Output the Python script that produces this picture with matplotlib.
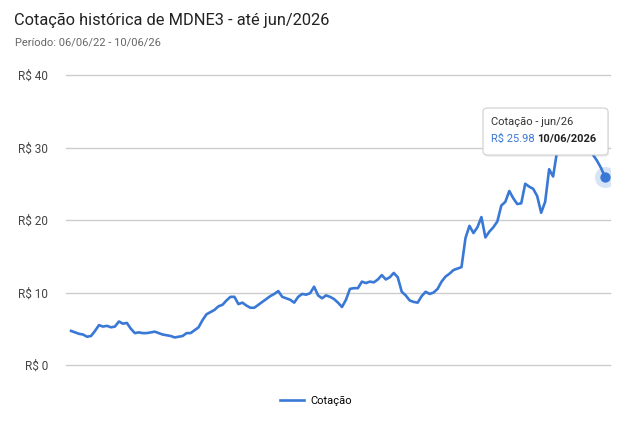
import matplotlib

matplotlib.use("Agg")
import matplotlib.pyplot as plt
import matplotlib.ticker as mticker
from matplotlib.patches import FancyBboxPatch
import pandas as pd

# values, evenly spaced from 06/06/22 to 10/06/26
prices = [
    4.7, 4.5, 4.3, 4.2, 3.9, 4.0, 4.7, 5.5, 5.3, 5.4, 5.2, 5.3, 6.0, 5.7, 5.8, 5.0,
    4.4, 4.5, 4.4, 4.4, 4.5, 4.6, 4.4, 4.2, 4.1, 4.0, 3.8, 3.9, 4.0, 4.4, 4.4, 4.8,
    5.2, 6.2, 7.0, 7.3, 7.6, 8.1, 8.3, 8.9, 9.4, 9.4, 8.4, 8.6, 8.2, 7.9, 7.9, 8.3,
    8.7, 9.1, 9.5, 9.8, 10.2, 9.4, 9.2, 9.0, 8.6, 9.4, 9.8, 9.7, 9.9, 10.8, 9.6, 9.2,
    9.6, 9.4, 9.1, 8.6, 8.0, 9.0, 10.5, 10.6, 10.6, 11.5, 11.3, 11.5, 11.4, 11.8, 12.4, 11.8,
    12.1, 12.7, 12.1, 10.1, 9.6, 8.9, 8.7, 8.6, 9.5, 10.1, 9.8, 10.0, 10.5, 11.5, 12.2, 12.6,
    13.1, 13.3, 13.5, 17.5, 19.2, 18.2, 19.0, 20.4, 17.6, 18.4, 19.0, 19.8, 22.0, 22.5, 24.0, 23.0,
    22.2, 22.3, 25.0, 24.6, 24.3, 23.3, 21.0, 22.5, 27.0, 26.0, 29.5, 31.0, 32.0, 32.5, 33.5, 33.0,
    32.0, 31.0, 30.5, 29.0, 28.2, 27.2, 25.98,
]
dates = pd.date_range("2022-06-06", "2026-06-10", periods=len(prices))
y_ticks = [0, 10, 20, 30, 40]

W, H = 636, 421
LINE = "#3a78d6"

plt.rcParams["font.family"] = ["Roboto", "DejaVu Sans"]

fig = plt.figure(figsize=(W / 100, H / 100), dpi=100)
ax = fig.add_axes([66 / W, 1 - 365 / H, (610 - 66) / W, (365 - 75) / H])

ax.plot(dates, prices, color=LINE, linewidth=1.9, label="Cotação", zorder=3)
ax.scatter([dates[-1]], [prices[-1]], s=230, color=LINE, alpha=0.2, zorder=4, linewidths=0)
ax.scatter([dates[-1]], [prices[-1]], s=55, color=LINE, zorder=5, linewidths=0)

pad = pd.Timedelta(days=14)
ax.set_xlim(dates[0] - pad, dates[-1] + pad)
ax.set_ylim(0, 40)
ax.set_yticks(y_ticks)
ax.yaxis.set_major_formatter(mticker.FuncFormatter(lambda v, _: f"R$ {v:.0f}"))
ax.tick_params(axis="y", length=0, pad=13, labelsize=8.5, labelcolor="#444444")
ax.set_xticks([])
ax.grid(axis="y", color="#cccccc", linewidth=1)
for gl in ax.get_ygridlines():
    gl.set_clip_on(False)
for s in ax.spines.values():
    s.set_visible(False)

fig.text(14 / W, 1 - 20 / H, "Cotação histórica de MDNE3 - até jun/2026",
         fontsize=11.8, color="#222222", va="center")
fig.text(15 / W, 1 - 43 / H, "Período: 06/06/22 - 10/06/26",
         fontsize=8, color="#666666", va="center")

# tooltip
shadow = FancyBboxPatch((484 / W, 1 - 157 / H), (608 - 483) / W, (155 - 108) / H,
                        boxstyle="round,pad=0,rounding_size=0.008",
                        transform=fig.transFigure, facecolor="#000000", alpha=0.06,
                        edgecolor="none", zorder=9)
fig.add_artist(shadow)
box = FancyBboxPatch((483 / W, 1 - 155 / H), (608 - 483) / W, (155 - 108) / H,
                     boxstyle="round,pad=0,rounding_size=0.008",
                     transform=fig.transFigure, facecolor="white",
                     edgecolor="#cfcfcf", linewidth=0.8, zorder=10)
fig.add_artist(box)
fig.text(491 / W, 1 - 122 / H, "Cotação - jun/26", fontsize=8, color="#333333",
         va="center", zorder=11)
fig.text(491 / W, 1 - 139 / H, "R$ 25.98 ", fontsize=8, color=LINE,
         va="center", zorder=11)
fig.text(537 / W, 1 - 139 / H, "10/06/2026", fontsize=8, color="#222222",
         fontweight="bold", va="center", zorder=11)

ax.legend(loc="center", bbox_to_anchor=(316 / W, 1 - 401 / H),
          bbox_transform=fig.transFigure, frameon=False, fontsize=8,
          handlelength=2.2, handletextpad=0.6)

fig.savefig("out.png", dpi=100)
